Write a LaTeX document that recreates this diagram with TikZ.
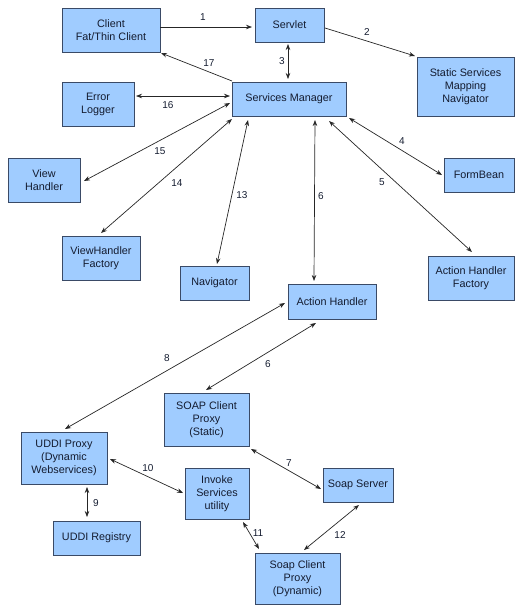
\documentclass[tikz,border=0pt]{standalone}
\usepackage{fontspec}
\setmainfont{Liberation Sans}
\usetikzlibrary{arrows.meta}
\definecolor{boxfill}{HTML}{A0CCFF}
\definecolor{boxline}{HTML}{3A4A66}
\definecolor{txt}{HTML}{141C30}
\tikzset{
  box/.style={draw=boxline, line width=0.9pt, fill=boxfill, inner sep=0pt, align=center,
    font=\fontsize{10.8}{13}\selectfont, text=txt},
  conn/.style={line width=0.7pt, draw=black!85},
  one/.style={conn, -{Stealth[length=6pt,width=4.5pt]}},
  two/.style={conn, {Stealth[length=6pt,width=4.5pt]}-{Stealth[length=6pt,width=4.5pt]}},
  lab/.style={font=\fontsize{10}{12}\selectfont, text=txt, inner sep=0pt}
}
\begin{document}
\begin{tikzpicture}[x=1pt,y=1pt]
\useasboundingbox (0,0) rectangle (522,-614);
% boxes
\node[box, minimum width=98pt, minimum height=44pt] (client) at (111,-30) {Client\\Fat/Thin Client};
\node[box, minimum width=69pt, minimum height=34pt] (servlet) at (289.5,-25) {Servlet};
\node[box, minimum width=97pt, minimum height=59pt] (static) at (465.5,-86.5) {Static Services\\Mapping\\Navigator};
\node[box, minimum width=72pt, minimum height=44pt] (error) at (98,-104) {Error\\Logger};
\node[box, minimum width=114pt, minimum height=34pt] (sm) at (289,-99) {Services Manager};
\node[box, minimum width=72pt, minimum height=44pt] (view) at (44,-180) {View\\Handler};
\node[box, minimum width=70pt, minimum height=34pt] (formbean) at (479,-175) {FormBean};
\node[box, minimum width=78pt, minimum height=44pt] (vhf) at (101,-258) {ViewHandler\\Factory};
\node[box, minimum width=69pt, minimum height=34pt] (nav) at (214.5,-283) {Navigator};
\node[box, minimum width=88pt, minimum height=35pt] (ah) at (332,-301.5) {Action Handler};
\node[box, minimum width=86pt, minimum height=44pt] (ahf) at (471,-278) {Action Handler\\Factory};
\node[box, minimum width=85pt, minimum height=53pt] (soapst) at (206.5,-419.5) {SOAP Client\\Proxy\\(Static)};
\node[box, minimum width=86pt, minimum height=52pt] (uddi) at (64,-458) {UDDI Proxy\\(Dynamic\\Webservices)};
\node[box, minimum width=64pt, minimum height=51pt] (invoke) at (217,-493.5) {Invoke\\Services\\utility};
\node[box, minimum width=70pt, minimum height=34pt] (soapsrv) at (358,-485) {Soap Server};
\node[box, minimum width=87pt, minimum height=34pt] (reg) at (96.5,-538) {UDDI Registry};
\node[box, minimum width=85pt, minimum height=51pt] (soapdyn) at (297.5,-578.5) {Soap Client\\Proxy\\(Dynamic)};
% connectors
\draw[one] ([shift={(49,3)}]client.center) -- ([shift={(-37.5,-2)}]servlet.center);
\draw[one] ([shift={(35.5,-3)}]servlet.center) -- ([shift={(-50.5,30.5)}]static.center);
\draw[two] ([shift={(-1.5,-19)}]servlet.center) -- ([shift={(-1,20)}]sm.center);
\draw[one] ([shift={(-57,18)}]sm.center) -- ([shift={(50,-23)}]client.center);
\draw[two] ([shift={(38,8)}]error.center) -- ([shift={(-59,3)}]sm.center);
\draw[two] ([shift={(-59,-4)}]sm.center) -- ([shift={(40,-1)}]view.center);
\draw[two] ([shift={(-57,-20)}]sm.center) -- ([shift={(0,25)}]vhf.center);
\draw[two] ([shift={(-41,-21)}]sm.center) -- ([shift={(2.5,19)}]nav.center);
\draw[two] ([shift={(26,-21)}]sm.center) -- ([shift={(-18,20.5)}]ah.center);
\draw[two] ([shift={(40,-22)}]sm.center) -- ([shift={(1,26)}]ahf.center);
\draw[two] ([shift={(60,-19)}]sm.center) -- ([shift={(-37,0)}]formbean.center);
\draw[two] ([shift={(-47,-1.5)}]ah.center) -- ([shift={(1,29)}]uddi.center);
\draw[two] ([shift={(-16,-21.5)}]ah.center) -- ([shift={(-0.5,29.5)}]soapst.center);
\draw[two] ([shift={(44.5,-29.5)}]soapst.center) -- ([shift={(-37,-4)}]soapsrv.center);
\draw[two] ([shift={(46,-1)}]uddi.center) -- ([shift={(-34,0.5)}]invoke.center);
\draw[two] ([shift={(23,-29)}]uddi.center) -- ([shift={(-9.5,21)}]reg.center);
\draw[two] ([shift={(26,-28.5)}]invoke.center) -- ([shift={(-38.5,29.5)}]soapdyn.center);
\draw[two] ([shift={(1,-20)}]soapsrv.center) -- ([shift={(6.5,28.5)}]soapdyn.center);
% labels
\node[lab] (l1) at (203,-17) {1};
\node[lab] (l2) at (367,-32) {2};
\node[lab] (l3) at (282,-61) {3};
\node[lab] (l17) at (209,-63) {17};
\node[lab] (l16) at (168,-105) {16};
\node[lab] (l15) at (160,-151) {15};
\node[lab] (l14) at (177,-183) {14};
\node[lab] (l13) at (242,-195) {13};
\node[lab] (l6) at (321,-196) {6};
\node[lab] (l5) at (382,-182) {5};
\node[lab] (l4) at (402,-141) {4};
\node[lab] (l8) at (167,-358) {8};
\node[lab] (l6b) at (268,-364) {6};
\node[lab] (l7) at (289,-463) {7};
\node[lab] (l10) at (148,-468) {10};
\node[lab] (l9) at (96,-503) {9};
\node[lab] (l11) at (258,-533) {11};
\node[lab] (l12) at (340,-535) {12};
\end{tikzpicture}
\end{document}
